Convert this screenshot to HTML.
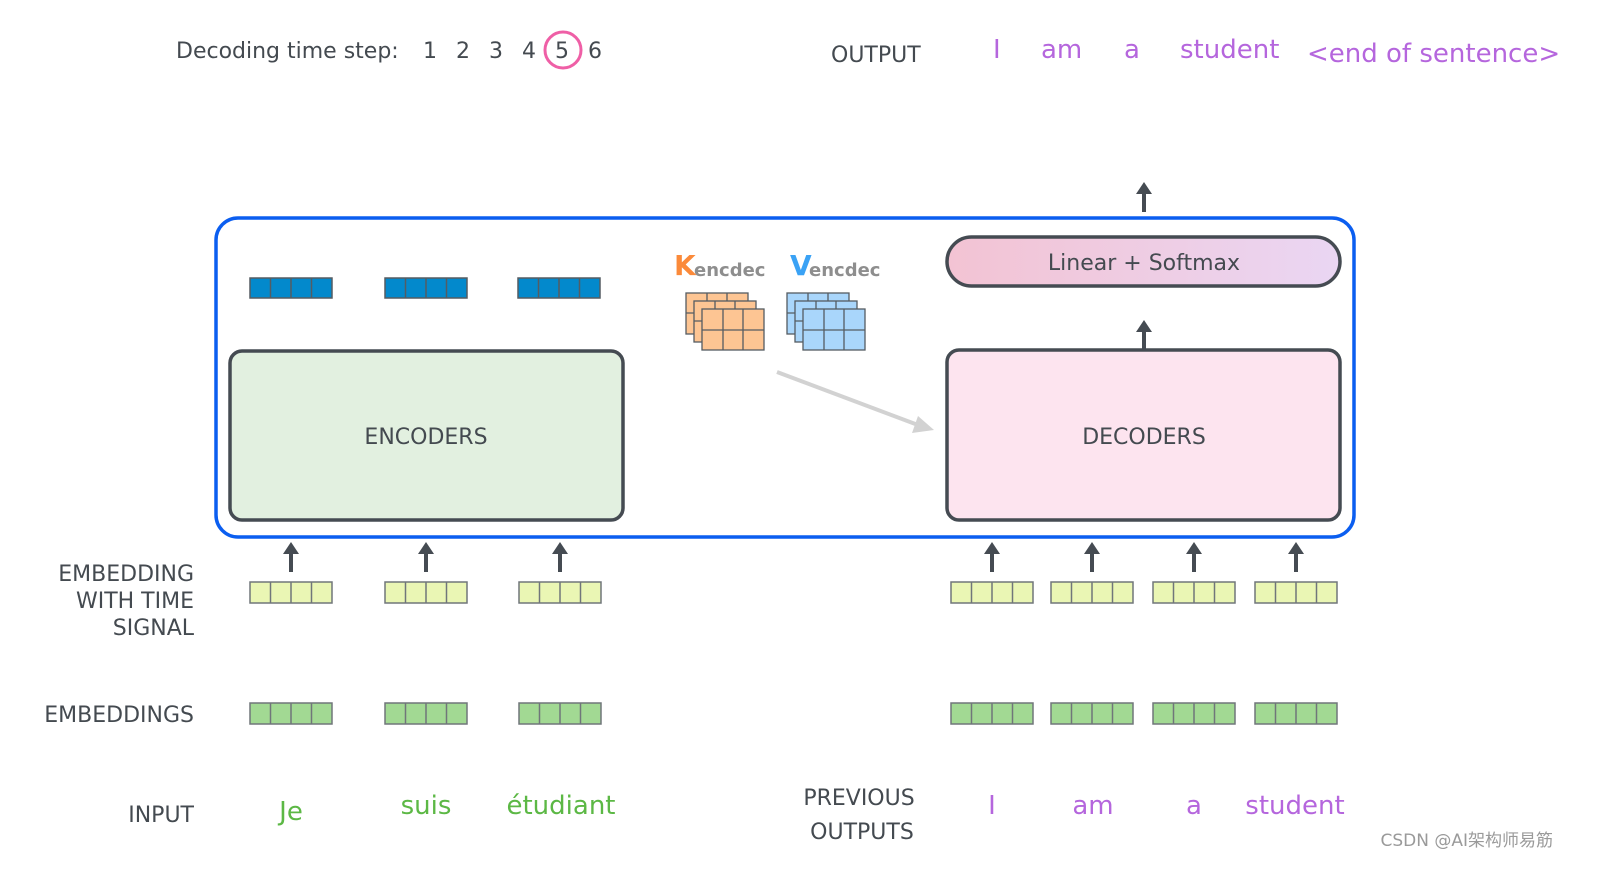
<!DOCTYPE html>
<html><head><meta charset="utf-8"><style>
html,body{margin:0;padding:0;background:#fff;width:1598px;height:874px;overflow:hidden}
svg{display:block}
text{font-family:"DejaVu Sans","Liberation Sans",sans-serif}
</style></head><body>
<svg width="1598" height="874" viewBox="0 0 1598 874" xmlns="http://www.w3.org/2000/svg">
<defs>
<symbol id="vb" overflow="visible"><rect x="0" y="0" width="82" height="20" fill="#0389cc" stroke="#555c62" stroke-width="1.5"/><path d="M20.5 0V20M41 0V20M61.5 0V20" stroke="#555c62" stroke-width="1.5"/></symbol>
<symbol id="vy" overflow="visible"><rect x="0" y="0" width="82" height="21" fill="#eaf6b4" stroke="#70767a" stroke-width="1.5"/><path d="M20.5 0V21M41 0V21M61.5 0V21" stroke="#70767a" stroke-width="1.5"/></symbol>
<symbol id="vg" overflow="visible"><rect x="0" y="0" width="82" height="21" fill="#a2d993" stroke="#70767a" stroke-width="1.5"/><path d="M20.5 0V21M41 0V21M61.5 0V21" stroke="#70767a" stroke-width="1.5"/></symbol>
<symbol id="ar" overflow="visible"><path d="M-2 0V-18H-8L0-30L8-18H2V0Z" fill="#454b52"/></symbol>
<linearGradient id="lg" x1="0" x2="1"><stop offset="0" stop-color="#f3c3d3"/><stop offset="1" stop-color="#ead6f3"/></linearGradient>
</defs>

<!-- top texts -->
<g fill="#444a50" font-size="22">
<text x="176" y="58">Decoding time step:</text>
<text x="423" y="58">1</text><text x="456" y="58">2</text><text x="489" y="58">3</text><text x="522" y="58">4</text><text x="555" y="58">5</text><text x="588" y="58">6</text>
<text x="831" y="62">OUTPUT</text>
</g>
<circle cx="563" cy="50" r="18" fill="none" stroke="#ef5fa6" stroke-width="3"/>
<g fill="#b566dd" font-size="26">
<text x="993" y="58">I</text><text x="1041" y="58">am</text><text x="1124" y="58">a</text><text x="1180" y="58">student</text><text x="1307" y="62">&lt;end of sentence&gt;</text>
</g>

<!-- top arrow -->
<use href="#ar" x="1144" y="212"/>

<!-- outer blue box -->
<rect x="216" y="218" width="1138" height="319" rx="22" fill="none" stroke="#0b5ef0" stroke-width="3.5"/>

<!-- Linear + Softmax -->
<rect x="947" y="237" width="393" height="49" rx="24.5" fill="url(#lg)" stroke="#454b52" stroke-width="3.5"/>
<text x="1144" y="270" text-anchor="middle" font-size="22" fill="#444a50">Linear + Softmax</text>
<use href="#ar" x="1144" y="350"/>

<!-- encoder outputs -->
<use href="#vb" x="250" y="278"/><use href="#vb" x="385" y="278"/><use href="#vb" x="518" y="278"/>

<!-- encoders -->
<rect x="230" y="351" width="393" height="169" rx="12" fill="#e2f0e0" stroke="#454b52" stroke-width="3.5"/>
<text x="426" y="444" text-anchor="middle" font-size="22" fill="#444a50">ENCODERS</text>

<!-- decoders -->
<rect x="947" y="350" width="393" height="170" rx="12" fill="#fde4ef" stroke="#454b52" stroke-width="3.5"/>
<text x="1144" y="444" text-anchor="middle" font-size="22" fill="#444a50">DECODERS</text>

<!-- K V -->
<text x="674" y="275" font-size="28" font-weight="bold" fill="#fb8a3a">K</text>
<text x="694" y="276" font-size="18" font-weight="bold" fill="#8e8e8e">encdec</text>
<text x="790" y="275" font-size="28" font-weight="bold" fill="#3aa2f5">V</text>
<text x="809" y="276" font-size="18" font-weight="bold" fill="#8e8e8e">encdec</text>
<g stroke="#555c62" stroke-width="1.3">
<g fill="#fdc593">
<rect x="686" y="293" width="62" height="41"/><path d="M707 293V334M727 293V334M686 313H748"/>
<rect x="694" y="301" width="62" height="41"/><path d="M715 301V342M735 301V342M694 321H756"/>
<rect x="702" y="309" width="62" height="41"/><path d="M723 309V350M743 309V350M702 330H764"/>
</g>
<g fill="#a9d6fb">
<rect x="787" y="293" width="62" height="41"/><path d="M808 293V334M828 293V334M787 313H849"/>
<rect x="795" y="301" width="62" height="41"/><path d="M816 301V342M836 301V342M795 321H857"/>
<rect x="803" y="309" width="62" height="41"/><path d="M824 309V350M844 309V350M803 330H865"/>
</g>
</g>
<!-- grey arrow -->
<path d="M777 372L918 425" stroke="#d2d2d2" stroke-width="4"/>
<path d="M934 430L912 433L918 416Z" fill="#d2d2d2"/>

<!-- input arrows -->
<use href="#ar" x="291" y="572"/><use href="#ar" x="426" y="572"/><use href="#ar" x="560" y="572"/>
<use href="#ar" x="992" y="572"/><use href="#ar" x="1092" y="572"/><use href="#ar" x="1194" y="572"/><use href="#ar" x="1296" y="572"/>

<!-- embedding with time signal -->
<use href="#vy" x="250" y="582"/><use href="#vy" x="385" y="582"/><use href="#vy" x="519" y="582"/>
<use href="#vy" x="951" y="582"/><use href="#vy" x="1051" y="582"/><use href="#vy" x="1153" y="582"/><use href="#vy" x="1255" y="582"/>
<!-- embeddings -->
<use href="#vg" x="250" y="703"/><use href="#vg" x="385" y="703"/><use href="#vg" x="519" y="703"/>
<use href="#vg" x="951" y="703"/><use href="#vg" x="1051" y="703"/><use href="#vg" x="1153" y="703"/><use href="#vg" x="1255" y="703"/>

<!-- left labels -->
<g fill="#444a50" font-size="22" text-anchor="end">
<text x="194" y="581">EMBEDDING</text>
<text x="194" y="608">WITH TIME</text>
<text x="194" y="635">SIGNAL</text>
<text x="194" y="722">EMBEDDINGS</text>
<text x="194" y="822">INPUT</text>
</g>
<g fill="#444a50" font-size="22" text-anchor="middle">
<text x="859" y="805">PREVIOUS</text>
<text x="862" y="839">OUTPUTS</text>
</g>
<g fill="#5cb845" font-size="26" text-anchor="middle">
<text x="291" y="820">Je</text><text x="426" y="814">suis</text><text x="561" y="814">étudiant</text>
</g>
<g fill="#b566dd" font-size="26" text-anchor="middle">
<text x="992" y="814">I</text><text x="1093" y="814">am</text><text x="1194" y="814">a</text><text x="1295" y="814">student</text>
</g>
<text x="1553" y="846" text-anchor="end" font-size="17" fill="#9a9a9a" font-family="'Liberation Sans','Noto Sans CJK SC',sans-serif">CSDN @AI架构师易筋</text>
</svg>
</body></html>
